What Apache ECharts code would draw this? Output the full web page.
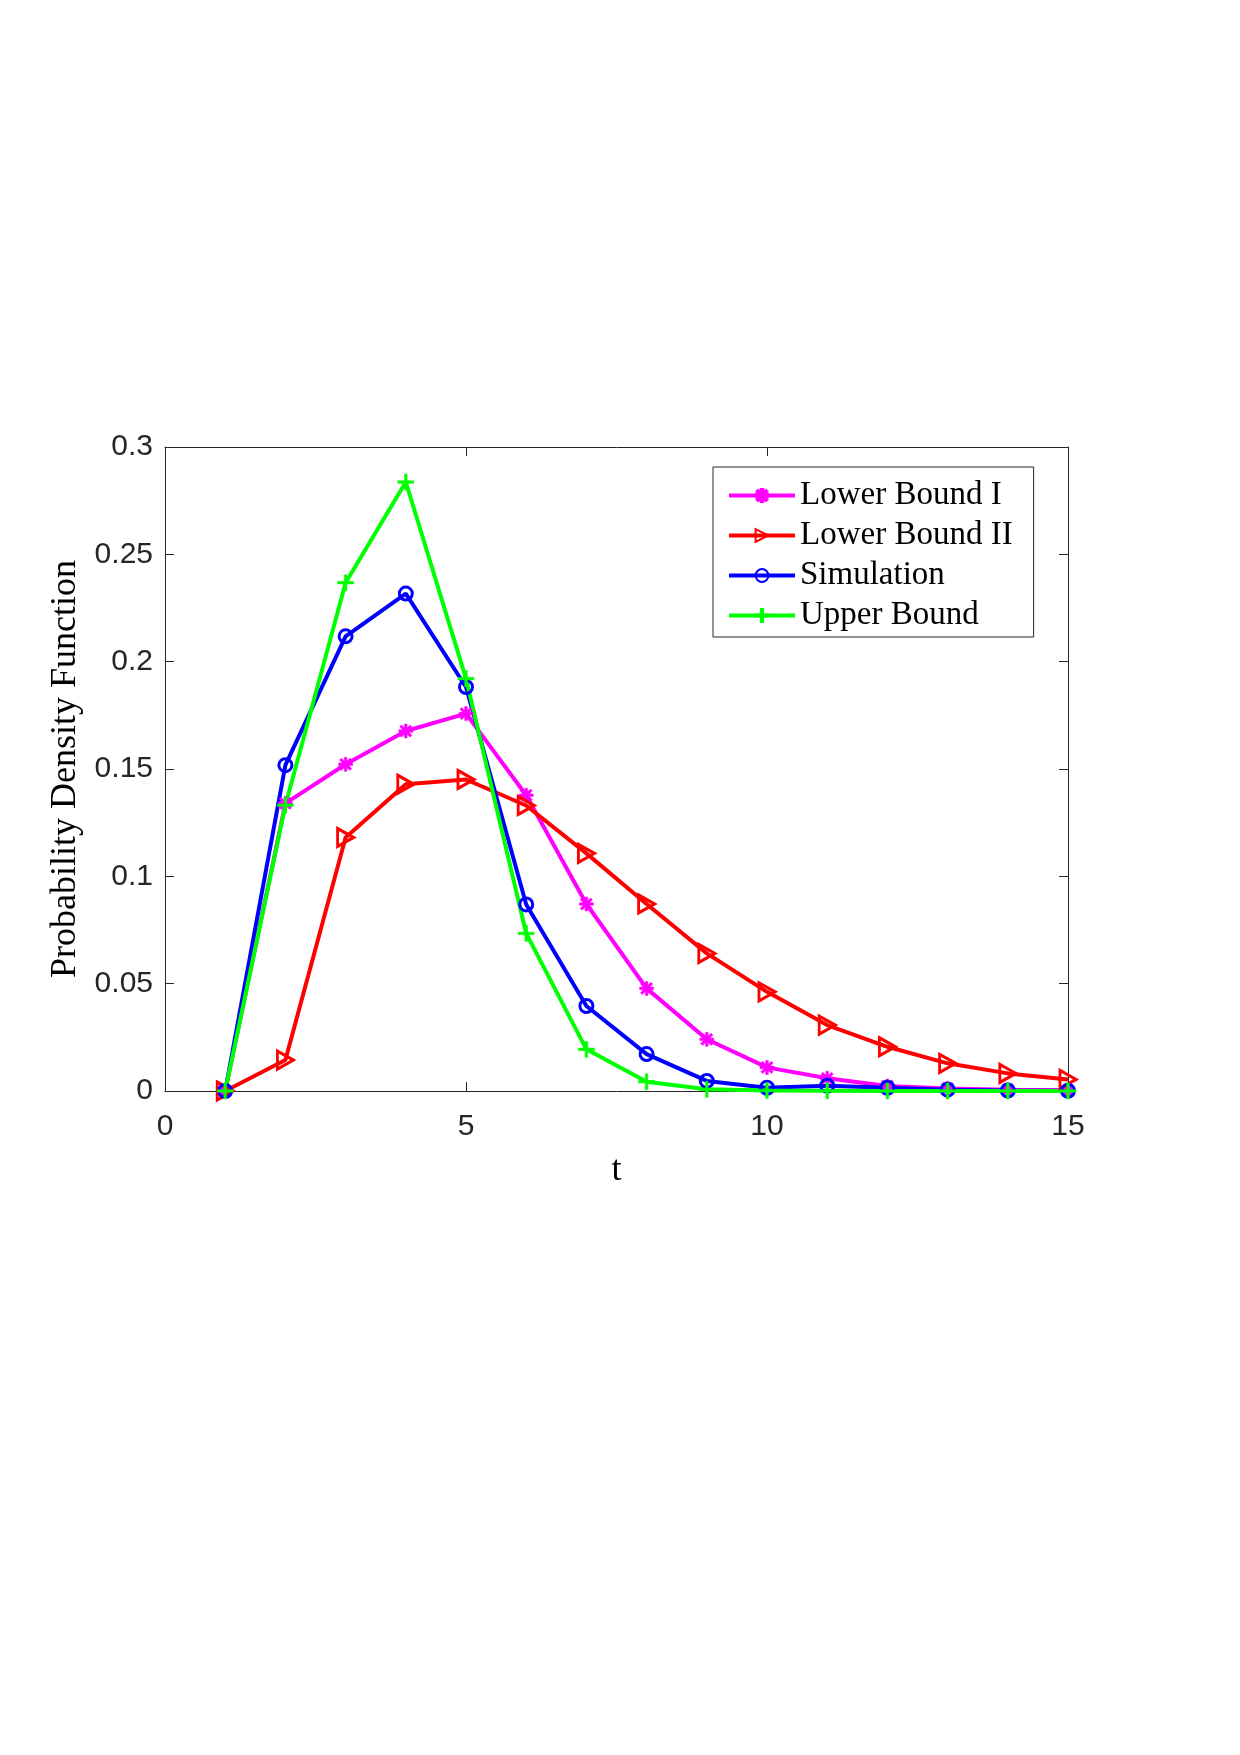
<!DOCTYPE html>
<html>
<head>
<meta charset="utf-8">
<style>
html,body{margin:0;padding:0;background:#fff;}
#chart{width:1240px;height:1755px;}
</style>
<script src="https://cdn.jsdelivr.net/npm/echarts@6/dist/echarts.min.js"></script>
</head>
<body>
<div id="chart"></div>
<script>
const tValues = [1,2,3,4,5,6,7,8,9,10,11,12,13,14,15];
const lowerBound1 = [0, 0.134, 0.1522, 0.1677, 0.1758, 0.1378, 0.0871, 0.0478, 0.0241, 0.011, 0.0059, 0.0023, 0.0012, 0.0006, 0.0003];
const lowerBound2 = [0, 0.0144, 0.1181, 0.1429, 0.1451, 0.1330, 0.1107, 0.0871, 0.0641, 0.0462, 0.0307, 0.0206, 0.0129, 0.0082, 0.0054];
const simulation  = [0, 0.1518, 0.2118, 0.2317, 0.1882, 0.0869, 0.0396, 0.0172, 0.0047, 0.0015, 0.0025, 0.0015, 0.0006, 0.0002, 0.0001];
const upperBound  = [0, 0.1331, 0.2368, 0.2837, 0.1921, 0.0734, 0.0194, 0.0043, 0.0008, 0.0002, 0.0001, 0, 0, 0, 0];
const seriesNames = ['Lower Bound I', 'Lower Bound II', 'Simulation', 'Upper Bound'];
const xAxisName = 't';
const yAxisName = 'Probability Density Function';

const pair = arr => tValues.map((t, i) => [t, arr[i]]);

const plusPath = 'path://M6.7,0H9.3V6.7H16V9.3H9.3V16H6.7V9.3H0V6.7H6.7Z';
const starPath = 'path://M0,6.5H16V9.5H0Z M6.5,0H9.5V16H6.5Z M3.1,1L15,12.9L12.9,15L1,3.1Z M12.9,1L15,3.1L3.1,15L1,12.9Z';
const triPath = 'path://M0,0L14,7.5L0,15Z';

const axisColor = '#262626';
const tickFont = { fontFamily: 'Liberation Sans', fontSize: 30, color: '#262626' };

function axisCommon(pos) {
  return {
    axisLine: { show: true, onZero: false, lineStyle: { color: axisColor, width: 1 } },
    axisTick: { show: true, inside: true, length: 9, lineStyle: { color: axisColor, width: 1 } },
    splitLine: { show: false },
    position: pos
  };
}

const chart = echarts.init(document.getElementById('chart'), null, { renderer: 'canvas' });
chart.setOption({
  backgroundColor: '#fff',
  animation: false,
  grid: { left: 165, right: 172, top: 447, bottom: 664 },
  legend: {
    orient: 'vertical',
    left: 713, top: 467,
    padding: [12, 21, 5, 14],
    itemWidth: 66, itemHeight: 16,
    itemGap: 7,
    itemTextGap: 7,
    borderColor: axisColor, borderWidth: 1,
    backgroundColor: '#fff',
    lineStyle: { width: 4 },
    textStyle: { fontFamily: 'Liberation Serif', fontSize: 33, color: '#000', lineHeight: 33 },
    data: seriesNames
  },
  xAxis: [Object.assign(axisCommon('bottom'), {
    type: 'value', min: 0, max: 15, interval: 5,
    name: xAxisName, nameLocation: 'middle', nameGap: 62,
    nameTextStyle: { fontFamily: 'Liberation Serif', fontSize: 36, color: '#000' },
    axisLabel: Object.assign({ margin: 21 }, tickFont)
  }), Object.assign(axisCommon('top'), {
    type: 'value', min: 0, max: 15, interval: 5,
    axisLabel: { show: false }
  })],
  yAxis: [Object.assign(axisCommon('left'), {
    type: 'value', min: 0, max: 0.3, interval: 0.05,
    name: yAxisName, nameLocation: 'middle', nameGap: 79,
    nameTextStyle: { fontFamily: 'Liberation Serif', fontSize: 36, color: '#000' },
    axisLabel: Object.assign({ margin: 12, padding: [6, 0, 0, 0] }, tickFont)
  }), Object.assign(axisCommon('right'), {
    type: 'value', min: 0, max: 0.3, interval: 0.05,
    axisLabel: { show: false }
  })],
  series: [{
    name: seriesNames[0], type: 'line', data: pair(lowerBound1),
    symbol: starPath, symbolSize: 14, showAllSymbol: true,
    lineStyle: { color: '#ff00ff', width: 4 },
    itemStyle: { color: '#ff00ff', borderColor: '#ff00ff', borderWidth: 0.5 }
  }, {
    name: seriesNames[1], type: 'line', data: pair(lowerBound2),
    symbol: triPath, symbolSize: [16, 18], showAllSymbol: true,
    lineStyle: { color: '#ff0000', width: 4 },
    itemStyle: { color: 'rgba(255,255,255,0)', borderColor: '#ff0000', borderWidth: 3 }
  }, {
    name: seriesNames[2], type: 'line', data: pair(simulation),
    symbol: 'circle', symbolSize: 13, showAllSymbol: true,
    lineStyle: { color: '#0000ff', width: 4 },
    itemStyle: { color: 'rgba(255,255,255,0)', borderColor: '#0000ff', borderWidth: 3 }
  }, {
    name: seriesNames[3], type: 'line', data: pair(upperBound),
    symbol: plusPath, symbolSize: 16, showAllSymbol: true,
    lineStyle: { color: '#00ff00', width: 4 },
    itemStyle: { color: '#00ff00', borderColor: '#00ff00', borderWidth: 0.5 }
  }]
});
</script>
</body>
</html>
